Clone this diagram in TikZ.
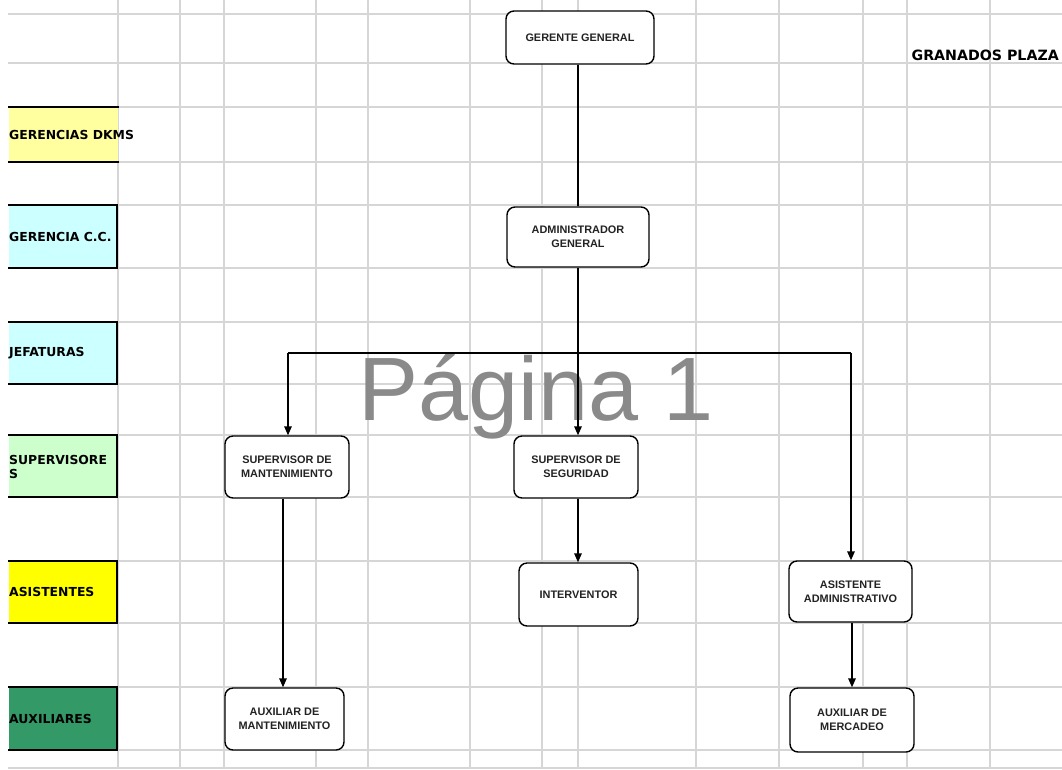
\documentclass[tikz,border=0pt]{standalone}
\usepackage{fontspec}
\setmainfont{Liberation Sans}
\newfontfamily\labelfont{DejaVu Sans}
\usetikzlibrary{arrows.meta}

\definecolor{gridgray}{RGB}{214,214,214}
\definecolor{paleyellow}{RGB}{255,255,160}
\definecolor{palecyan}{RGB}{204,255,255}
\definecolor{palegreen}{RGB}{204,255,204}
\definecolor{brightyellow}{RGB}{255,255,0}
\definecolor{seagreen}{RGB}{51,153,102}
\definecolor{watermark}{RGB}{138,138,138}
\definecolor{boxtext}{RGB}{35,35,35}

\tikzset{
  gridline/.style={draw=gridgray, line width=1.3pt},
  orgbox/.style={draw=black, fill=white, line width=1.4pt, rounded corners=8pt,
    inner sep=0pt, align=center, text=boxtext,
    font=\bfseries\fontsize{10.9}{13.6}\selectfont},
  rowlabel/.style={anchor=west, inner sep=0pt, align=left,
    font=\labelfont\bfseries\fontsize{12.4}{14}\selectfont},
  rowedge/.style={line width=2.6pt, line cap=rect},
  link/.style={draw=black, line width=1.5pt},
  linkarrow/.style={link, -{Triangle[width=7.5pt,length=9pt]}},
}

\begin{document}
\begin{tikzpicture}[x=1pt,y=-1pt]
\useasboundingbox (0,0) rectangle (1062,769);
\fill[white] (0,0) rectangle (1062,769);

% spreadsheet grid
\foreach \gy in {14,63,107,162,205,268,322,384,435,497,561,623,687,750,768}
  \draw[gridline] (8,\gy) -- (1062,\gy);
\foreach \gx in {118,180,224,316,368,470,542,578,696,779,863,907,990}
  \draw[gridline] (\gx,0) -- (\gx,769);

% row header cells
\fill[paleyellow]   (9,107) rectangle (118,162);
\draw[rowedge] (9,107) -- (118,107);
\draw[rowedge] (9,162) -- (118,162);
\foreach \top/\bot/\col in {205/268/palecyan,322/384/palecyan,435/497/palegreen,
                            561/623/brightyellow,687/750/seagreen}{
  \fill[\col] (9,\top) rectangle (117,\bot);
  \draw[rowedge] (9,\top) -- (117,\top) -- (117,\bot) -- (9,\bot);
}
\node[rowlabel] (lgd) at (9,134.5) {GERENCIAS DKMS};
\node[rowlabel] (lgc) at (9,236.5) {GERENCIA C.C.};
\node[rowlabel] (ljf) at (9,353)   {JEFATURAS};
\node[rowlabel] (lsp) at (9,467)   {SUPERVISORE\\S};
\node[rowlabel] (las) at (9,592)   {ASISTENTES};
\node[rowlabel] (lax) at (9,718.5) {AUXILIARES};

\node[anchor=east, inner sep=0pt, font=\labelfont\bfseries\fontsize{14.2}{16}\selectfont]
  (title) at (1059,55) {GRANADOS PLAZA};

% page watermark
\node[anchor=base west, inner sep=0pt, text=watermark,
      font=\fontsize{90}{90}\selectfont] (wm) at (358,420) {Página 1};

% organisation chart
\node[orgbox, minimum width=148pt, minimum height=53pt] (gg)   at (580,37.5)  {GERENTE GENERAL};
\node[orgbox, minimum width=142pt, minimum height=60pt] (adm)  at (578,237)   {ADMINISTRADOR\\GENERAL};
\node[orgbox, minimum width=124pt, minimum height=62pt] (sm)   at (287,467)   {SUPERVISOR DE\\MANTENIMIENTO};
\node[orgbox, minimum width=124pt, minimum height=62pt] (ss)   at (576,467)   {SUPERVISOR DE\\SEGURIDAD};
\node[orgbox, minimum width=119pt, minimum height=63pt] (int)  at (578.5,594.5) {INTERVENTOR};
\node[orgbox, minimum width=123pt, minimum height=61pt] (asis) at (850.5,591.5) {ASISTENTE\\ADMINISTRATIVO};
\node[orgbox, minimum width=119pt, minimum height=62pt] (axm)  at (284.5,719) {AUXILIAR DE\\MANTENIMIENTO};
\node[orgbox, minimum width=124pt, minimum height=64pt] (axc)  at (852,720)   {AUXILIAR DE\\MERCADEO};

% branch line under the administrator
\coordinate (jm) at (578,353);
\coordinate (jl) at (288,353);
\coordinate (jr) at (851,353);
\coordinate (cm) at (283,0);

\draw[link] (gg.south -| jm) -- (adm.north -| jm);
\draw[link] (adm.south -| jm) -- (jm);
\draw[link] (jl) -- (jr);
\draw[linkarrow] (jl) -- (sm.north -| jl);
\draw[linkarrow] (jm) -- (ss.north -| jm);
\draw[linkarrow] (jr) -- (asis.north -| jr);
\draw[linkarrow] (sm.south -| cm) -- (axm.north -| cm);
\draw[linkarrow] (ss.south -| jm) -- (int.north -| jm);
\draw[linkarrow] (asis.south -| axc.north) -- (axc.north);
\end{tikzpicture}
\end{document}
